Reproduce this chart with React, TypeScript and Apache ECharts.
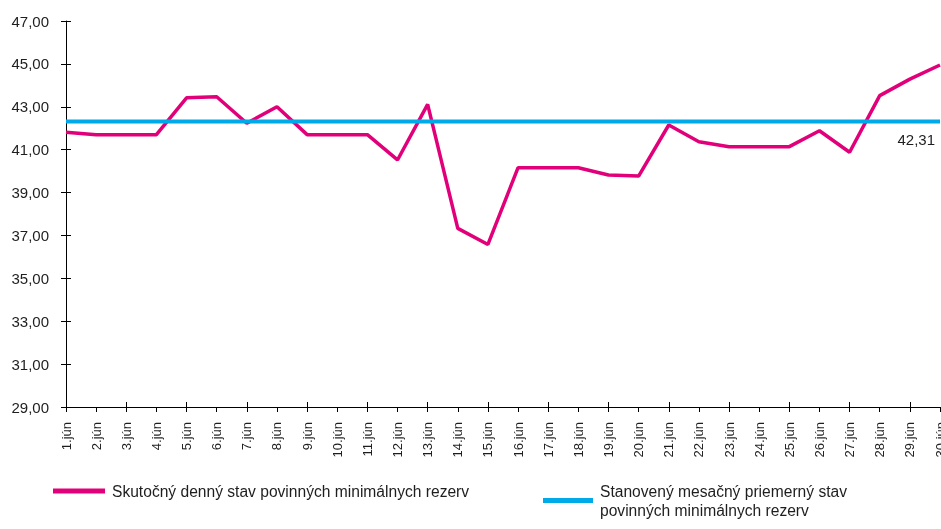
import React, { useEffect, useRef } from "react";
import * as echarts from "echarts";

const categories = [
  "1.jún", "2.jún", "3.jún", "4.jún", "5.jún", "6.jún", "7.jún", "8.jún", "9.jún", "10.jún",
  "11.jún", "12.jún", "13.jún", "14.jún", "15.jún", "16.jún", "17.jún", "18.jún", "19.jún", "20.jún",
  "21.jún", "22.jún", "23.jún", "24.jún", "25.jún", "26.jún", "27.jún", "28.jún", "29.jún", "30.jún",
];

const actualValues = [
  41.81, 41.7, 41.7, 41.7, 43.42, 43.47, 42.23, 43.0, 41.7, 41.7,
  41.7, 40.52, 43.11, 37.33, 36.58, 40.16, 40.16, 40.16, 39.82, 39.77,
  42.15, 41.37, 41.14, 41.14, 41.14, 41.88, 40.88, 43.52, 44.29, 44.95,
];

const requiredValues = [
  42.31, 42.31, 42.31, 42.31, 42.31, 42.31, 42.31, 42.31, 42.31, 42.31,
  42.31, 42.31, 42.31, 42.31, 42.31, 42.31, 42.31, 42.31, 42.31, 42.31,
  42.31, 42.31, 42.31, 42.31, 42.31, 42.31, 42.31, 42.31, 42.31, 42.31,
];

const seriesNames = [
  "Skutočný denný stav povinných minimálnych rezerv",
  "Stanovený mesačný priemerný stav\npovinných minimálnych rezerv",
];

const Y_MIN = 29;
const Y_MAX = 47;
const Y_STEP = 2;

const FONT = "'Liberation Sans', Arial, Helvetica, sans-serif";
const TEXT = "#1e1e1e";
const PINK = "#e2007a";
const BLUE = "#00a9e8";

const fmt = (v: number) => v.toFixed(2).replace(".", ",");

export default function App() {
  const ref = useRef<HTMLDivElement>(null);

  useEffect(() => {
    if (!ref.current) return;
    const chart = echarts.init(ref.current, undefined, { renderer: "svg" });
    const legendText = {
      fontFamily: FONT,
      fontSize: 15.6,
      color: TEXT,
      lineHeight: 19,
      padding: [19, 0, 0, 2],
    };
    chart.setOption({
      animation: false,
      textStyle: { fontFamily: FONT, color: TEXT },
      grid: {
        left: 66,
        right: 1,
        top: 21,
        bottom: 122,
        containLabel: false,
        outerBoundsMode: "none",
      },
      legend: [
        {
          data: [seriesNames[0]],
          left: 53,
          top: 472,
          padding: 0,
          icon: "rect",
          itemWidth: 52,
          itemHeight: 5,
          textStyle: legendText,
        },
        {
          data: [seriesNames[1]],
          left: 543,
          top: 472,
          padding: 0,
          icon: "rect",
          itemWidth: 50,
          itemHeight: 5,
          textStyle: legendText,
        },
      ],
      xAxis: [
        {
          type: "category",
          data: categories,
          boundaryGap: false,
          axisLine: { lineStyle: { color: "#000", width: 1 } },
          axisTick: { show: true, length: 5, lineStyle: { color: "#000" } },
          axisLabel: {
            rotate: 90,
            interval: 0,
            margin: 15,
            fontSize: 13,
            fontFamily: FONT,
            color: TEXT,
          },
          splitLine: { show: false },
        },
        {
          type: "category",
          data: categories,
          boundaryGap: false,
          position: "bottom",
          axisLine: { show: false },
          axisTick: { show: true, inside: true, length: 5, lineStyle: { color: "#000" } },
          axisLabel: { show: false },
          splitLine: { show: false },
        },
      ],
      yAxis: [
        {
          type: "value",
          min: Y_MIN,
          max: Y_MAX,
          interval: Y_STEP,
          axisLine: { show: true, lineStyle: { color: "#000", width: 1 } },
          axisTick: { show: true, length: 5, lineStyle: { color: "#000" } },
          axisLabel: {
            margin: 17,
            fontSize: 15,
            fontFamily: FONT,
            color: TEXT,
            formatter: (v: number) => fmt(v),
          },
          splitLine: { show: false },
        },
        {
          type: "value",
          min: Y_MIN,
          max: Y_MAX,
          interval: Y_STEP,
          position: "left",
          axisLine: { show: false },
          axisTick: { show: true, inside: true, length: 5, lineStyle: { color: "#000" } },
          axisLabel: { show: false },
          splitLine: { show: false },
        },
      ],
      series: [
        {
          name: seriesNames[0],
          type: "line",
          data: actualValues,
          showSymbol: false,
          symbol: "none",
          lineStyle: { color: PINK, width: 3.5 },
          itemStyle: { color: PINK },
          z: 3,
        },
        {
          name: seriesNames[1],
          type: "line",
          data: requiredValues,
          showSymbol: false,
          symbol: "none",
          lineStyle: { color: BLUE, width: 4 },
          itemStyle: { color: BLUE },
          endLabel: {
            show: true,
            distance: 0,
            align: "right",
            verticalAlign: "top",
            offset: [-5, 10],
            fontSize: 15,
            fontFamily: FONT,
            color: TEXT,
            formatter: (p: any) => fmt(Array.isArray(p.value) ? p.value[1] : p.value),
          },
          z: 4,
        },
      ],
    });
    return () => chart.dispose();
  }, []);

  return (
    <div
      ref={ref}
      style={{ position: "fixed", left: 0, top: 0, width: 941, height: 529 }}
    />
  );
}
